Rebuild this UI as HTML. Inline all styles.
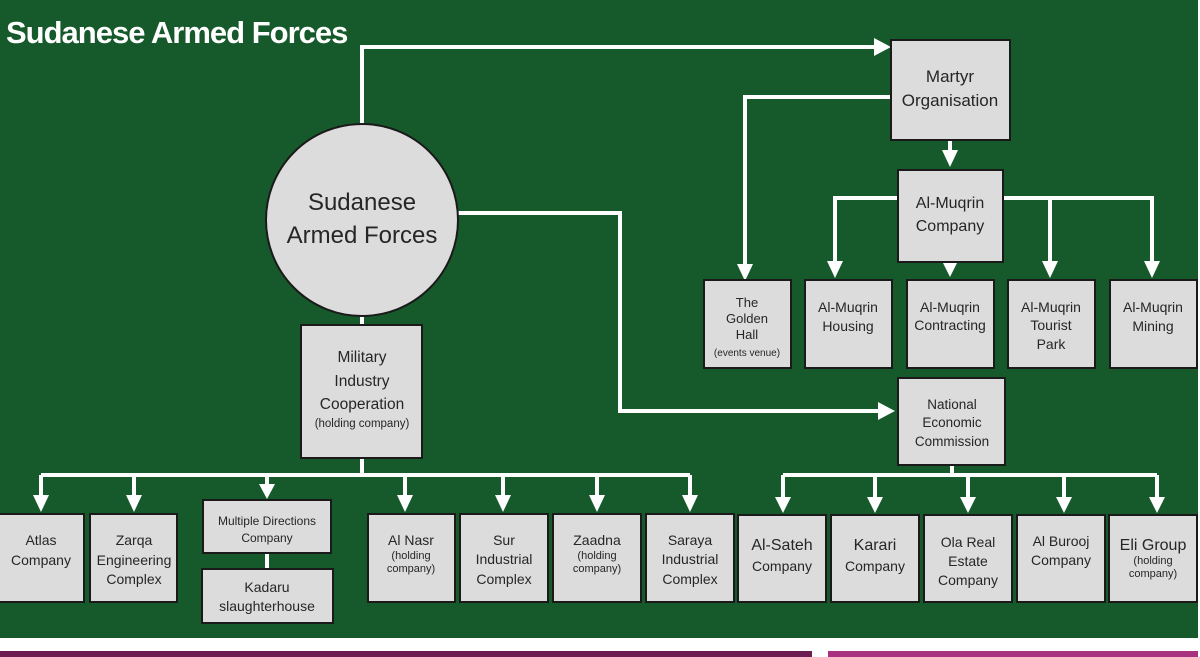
<!DOCTYPE html>
<html><head><meta charset="utf-8"><style>
html,body{margin:0;padding:0;background:#fff;}
svg{display:block;font-family:"Liberation Sans",sans-serif;}
.b{fill:#dcdcdc;stroke:#1a1a1a;stroke-width:2}
.l{stroke:#fff;stroke-width:4;fill:none}
.h{fill:#fff}
text{fill:#262626;text-anchor:middle}
</style></head><body>
<svg width="1200" height="657" viewBox="0 0 1200 657">
<rect x="0" y="0" width="1198" height="638" fill="#165a2c"/>
<rect x="0" y="651" width="812" height="6" fill="#6e1d52"/>
<rect x="828" y="651" width="370" height="6" fill="#a8327f"/>
<text x="6" y="43" style="fill:#fff;font-weight:bold;font-size:31px;text-anchor:start;letter-spacing:-1px">Sudanese Armed Forces</text>
<g class="l">
<path d="M362 125 V47 H876"/>
<path d="M891 97 H745 V268"/>
<path d="M950 140 V152"/>
<path d="M898 198 H835 V262 M1003 198 H1152 V262 M1050 198 V262 M950 262 V266"/>
<path d="M458 213 H620 V411 H880"/>
<path d="M952 465 V475 M783 475 H1157 M783 475 V500 M875 475 V500 M968 475 V500 M1064 475 V500 M1157 475 V500"/>
<path d="M362 315 V325 M362 458 V475 M41 475 H690 M41 475 V498 M134 475 V498 M405 475 V498 M503 475 V498 M597 475 V498 M690 475 V498 M267 475 V486"/>
<path d="M267 553 V569"/>
</g>
<g class="h">
<polygon points="874,38 891,47 874,56"/>
<polygon points="878,402 895,411 878,420"/>
<polygon points="942,150 958,150 950,167"/>
<polygon points="737,264 753,264 745,281"/>
<polygon points="827,261 843,261 835,278"/>
<polygon points="943,263 957,263 950,277"/>
<polygon points="1042,261 1058,261 1050,278"/>
<polygon points="1144,261 1160,261 1152,278"/>
<polygon points="775,497 791,497 783,513"/>
<polygon points="867,497 883,497 875,513"/>
<polygon points="960,497 976,497 968,513"/>
<polygon points="1056,497 1072,497 1064,513"/>
<polygon points="1149,497 1165,497 1157,513"/>
<polygon points="33,495 49,495 41,512"/>
<polygon points="126,495 142,495 134,512"/>
<polygon points="259,484 275,484 267,499"/>
<polygon points="397,495 413,495 405,512"/>
<polygon points="495,495 511,495 503,512"/>
<polygon points="589,495 605,495 597,512"/>
<polygon points="682,495 698,495 690,512"/>
</g>
<circle cx="362" cy="220" r="96" fill="#dcdcdc" stroke="#1a1a1a" stroke-width="2"/>
<text x="362" y="210" font-size="24">Sudanese</text>
<text x="362" y="243" font-size="24">Armed Forces</text>
<rect class="b" x="891" y="40" width="119" height="100"/>
<text x="950" y="82" font-size="17">Martyr</text><text x="950" y="106" font-size="17">Organisation</text>
<rect class="b" x="898" y="170" width="105" height="92"/>
<text x="950" y="208" font-size="16">Al-Muqrin</text><text x="950" y="231" font-size="16">Company</text>
<rect class="b" x="704" y="280" width="87" height="88"/>
<text x="747" y="307" font-size="13">The</text><text x="747" y="323" font-size="13">Golden</text><text x="747" y="339" font-size="13">Hall</text><text x="747" y="356" font-size="10">(events venue)</text>
<rect class="b" x="805" y="280" width="87" height="88"/>
<text x="848" y="312" font-size="14">Al-Muqrin</text><text x="848" y="331" font-size="14">Housing</text>
<rect class="b" x="907" y="280" width="87" height="88"/>
<text x="950" y="312" font-size="14">Al-Muqrin</text><text x="950" y="330" font-size="14">Contracting</text>
<rect class="b" x="1008" y="280" width="87" height="88"/>
<text x="1051" y="312" font-size="14">Al-Muqrin</text><text x="1051" y="330" font-size="14">Tourist</text><text x="1051" y="349" font-size="14">Park</text>
<rect class="b" x="1110" y="280" width="87" height="88"/>
<text x="1153" y="312" font-size="14">Al-Muqrin</text><text x="1153" y="331" font-size="14">Mining</text>
<rect class="b" x="898" y="378" width="107" height="87"/>
<text x="952" y="409" font-size="13.5">National</text><text x="952" y="427" font-size="13.5">Economic</text><text x="952" y="446" font-size="13.5">Commission</text>
<rect class="b" x="738" y="515" width="88" height="87"/>
<text x="782" y="550" font-size="16">Al-Sateh</text><text x="782" y="571" font-size="14">Company</text>
<rect class="b" x="831" y="515" width="88" height="87"/>
<text x="875" y="550" font-size="16">Karari</text><text x="875" y="571" font-size="14">Company</text>
<rect class="b" x="924" y="515" width="88" height="87"/>
<text x="968" y="547" font-size="14">Ola Real</text><text x="968" y="566" font-size="14">Estate</text><text x="968" y="585" font-size="14">Company</text>
<rect class="b" x="1017" y="515" width="88" height="87"/>
<text x="1061" y="546" font-size="14">Al Burooj</text><text x="1061" y="565" font-size="14">Company</text>
<rect class="b" x="1109" y="515" width="88" height="87"/>
<text x="1153" y="550" font-size="16">Eli Group</text><text x="1153" y="564" font-size="11">(holding</text><text x="1153" y="577" font-size="11">company)</text>
<rect class="b" x="301" y="325" width="121" height="133"/>
<text x="362" y="362" font-size="15.5">Military</text><text x="362" y="386" font-size="15.5">Industry</text><text x="362" y="409" font-size="15.5">Cooperation</text><text x="362" y="427" font-size="11.5">(holding company)</text>
<rect class="b" x="-2" y="514" width="86" height="88"/>
<text x="41" y="545" font-size="14">Atlas</text><text x="41" y="565" font-size="14">Company</text>
<rect class="b" x="90" y="514" width="87" height="88"/>
<text x="134" y="545" font-size="14">Zarqa</text><text x="134" y="565" font-size="14">Engineering</text><text x="134" y="584" font-size="14">Complex</text>
<rect class="b" x="203" y="500" width="128" height="53"/>
<text x="267" y="525" font-size="12">Multiple Directions</text><text x="267" y="542" font-size="12">Company</text>
<rect class="b" x="202" y="569" width="131" height="54"/>
<text x="267" y="592" font-size="14">Kadaru</text><text x="267" y="611" font-size="14">slaughterhouse</text>
<rect class="b" x="368" y="514" width="87" height="88"/>
<text x="411" y="545" font-size="14">Al Nasr</text><text x="411" y="559" font-size="11">(holding</text><text x="411" y="572" font-size="11">company)</text>
<rect class="b" x="460" y="514" width="88" height="88"/>
<text x="504" y="545" font-size="14">Sur</text><text x="504" y="564" font-size="14">Industrial</text><text x="504" y="584" font-size="14">Complex</text>
<rect class="b" x="553" y="514" width="88" height="88"/>
<text x="597" y="545" font-size="14">Zaadna</text><text x="597" y="559" font-size="11">(holding</text><text x="597" y="572" font-size="11">company)</text>
<rect class="b" x="646" y="514" width="88" height="88"/>
<text x="690" y="545" font-size="14">Saraya</text><text x="690" y="564" font-size="14">Industrial</text><text x="690" y="584" font-size="14">Complex</text>
</svg>
</body></html>
